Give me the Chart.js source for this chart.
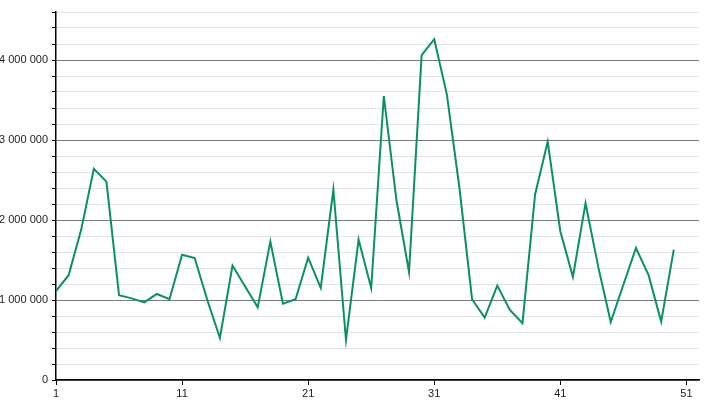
<!DOCTYPE html>
<html>
<head>
<meta charset="utf-8">
<script src="https://cdn.jsdelivr.net/npm/chart.js@4/dist/chart.umd.min.js"></script>
<style>
html,body{margin:0;padding:0;background:#fff;}
#wrap{width:710px;height:400px;position:relative;}
</style>
</head>
<body>
<div id="wrap"><canvas id="c" width="710" height="400"></canvas></div>
<script>
const positions = [1,2,3,4,5,6,7,8,9,10,11,12,13,14,15,16,17,18,19,20,21,22,23,24,25,26,27,28,29,30,31,32,33,34,35,36,37,38,39,40,41,42,43,44,45,46,47,48,49,50];
const values = [1110000,1310000,1880000,2640000,2480000,1060000,1020000,970000,1075000,1010000,
                1565000,1525000,1000000,525000,1430000,1170000,910000,1730000,955000,1010000,
                1530000,1150000,2380000,500000,1755000,1150000,3550000,2250000,1350000,4060000,
                4260000,3570000,2400000,1010000,780000,1180000,875000,710000,2320000,2980000,
                1860000,1290000,2210000,1420000,725000,1190000,1650000,1310000,730000,1630000];
const xTicks = [1,11,21,31,41,51];
const yMajorTicks = [0,1000000,2000000,3000000,4000000];

const fmt = v => String(v).replace(/\B(?=(\d{3})+(?!\d))/g, ' ');
const pts = positions.map((p,i)=>({x:p,y:values[i]}));

new Chart(document.getElementById('c'), {
  type: 'line',
  data: { datasets: [{
    data: pts,
    borderColor: '#0b8f66',
    borderWidth: 2,
    pointRadius: 0,
    tension: 0,
    fill: false
  }]},
  options: {
    responsive: false,
    animation: false,
    layout: { padding: { top: 12, right: 11, left: 0, bottom: 0 } },
    plugins: { legend: { display: false }, tooltip: { enabled: false } },
    scales: {
      x: {
        type: 'linear',
        min: 1, max: 52,
        afterBuildTicks: s => { s.ticks = xTicks.map(v => ({value: v})); },
        afterFit: s => { s.height = 20; },
        grid: { drawOnChartArea: false, drawTicks: true, tickLength: 5, tickColor: '#000' },
        border: { color: '#000', width: 1.5 },
        ticks: { color: '#222', font: { family: 'Liberation Sans', size: 11 }, padding: 2, maxRotation: 0,
                 callback: v => String(v) }
      },
      y: {
        min: 0, max: 4600000,
        afterFit: s => { s.width = 56; },
        ticks: { stepSize: 200000, color: '#222', font: { family: 'Liberation Sans', size: 11 }, padding: 4,
                 autoSkip: false,
                 callback: v => yMajorTicks.includes(v) ? fmt(v) : '' },
        grid: {
          color: c => (c.tick && c.tick.value % 1000000 === 0) ? '#7a7a7a' : '#e4e4e4',
          lineWidth: 1,
          tickLength: 4,
          tickColor: '#000'
        },
        border: { color: '#000', width: 1.5 }
      }
    }
  }
});
</script>
</body>
</html>
